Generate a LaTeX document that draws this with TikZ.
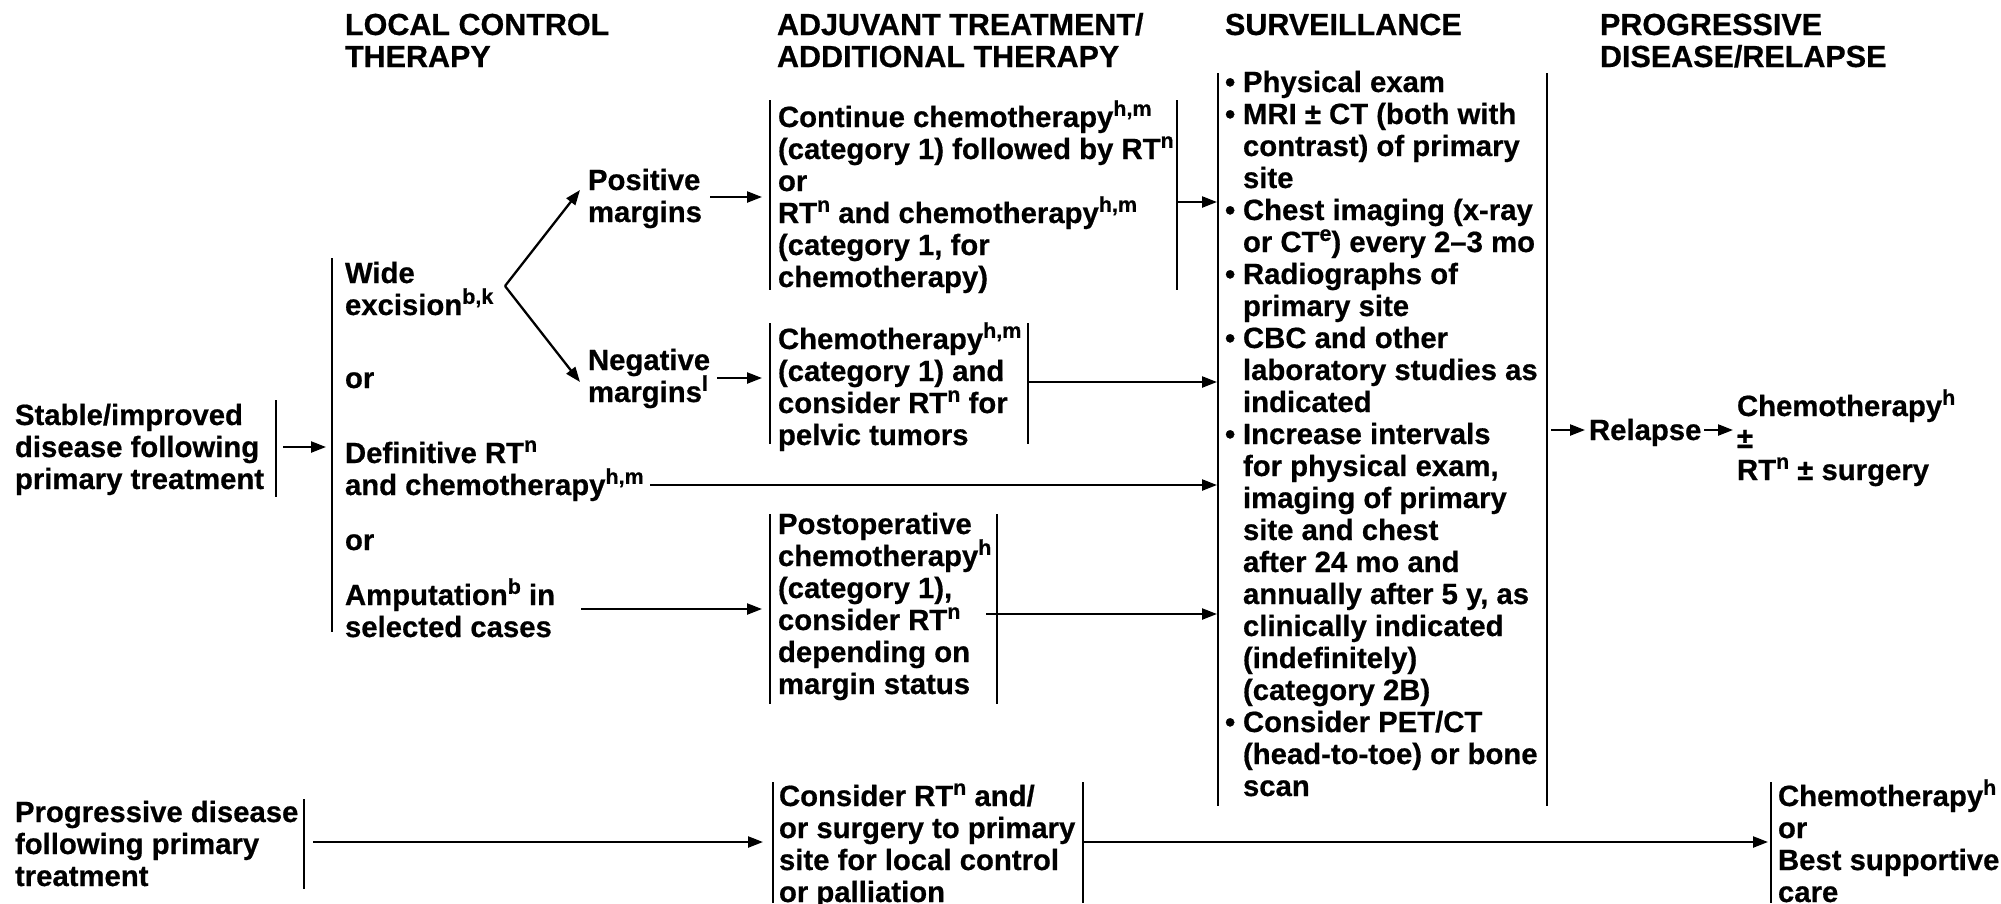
\documentclass[tikz,border=0pt]{standalone}
\usepackage{fontspec}
\setmainfont{Liberation Sans}[BoldFeatures={FakeBold=0.6}]
\usetikzlibrary{arrows.meta}
\newcommand\ml[1]{\vtop{\baselineskip=32pt\lineskiplimit=-100pt\lineskip=0pt\halign{##\hfil\cr#1\crcr}}}
\newcommand\su[1]{\raisebox{0.38em}{\fontsize{21.5}{21.5}\selectfont #1}}
\newcommand\bul{\hbox to 18pt{\textbullet\hss}}
\newcommand\indt{\hbox to 18pt{}}
\begin{document}
\begin{tikzpicture}[x=1pt,y=-1pt,
  T/.style={anchor=base west,inner sep=0pt,outer sep=0pt,font=\fontsize{29.3}{32}\selectfont\bfseries},
  H/.style={T,font=\fontsize{30.5}{32}\selectfont\bfseries},
  bar/.style={line width=2.3pt},
  arr/.style={line width=2.3pt,-{Triangle[length=15pt,width=11pt]}}]
\useasboundingbox (0,0) rectangle (2001,903);

% headers
\node[H] (hLC) at (345,35) {\ml{LOCAL CONTROL\cr THERAPY}};
\node[H] (hAT) at (777,35) {\ml{ADJUVANT TREATMENT/\cr ADDITIONAL THERAPY}};
\node[H] (hSV) at (1225,35) {SURVEILLANCE};
\node[H] (hPD) at (1600,35) {\ml{PROGRESSIVE\cr DISEASE/RELAPSE}};

% stable
\node[T] (stable) at (15,425) {\ml{Stable/improved\cr disease following\cr primary treatment}};
\coordinate (stT) at (276,400); \coordinate (stB) at (276,497);
\draw[bar] (stT) -- (stB);
\coordinate (a1s) at (283,447); \coordinate (a1e) at (326,447);
\draw[arr] (a1s) -- (a1e);

% local control bracket
\coordinate (lcT) at (332,258); \coordinate (lcB) at (332,632);
\draw[bar] (lcT) -- (lcB);
\node[T] (wide) at (345,283) {\ml{Wide\cr excision\su{b,k}}};
\node[T] (or1) at (345,388) {or};
\node[T] (defi) at (345,463) {\ml{Definitive RT\su{n}\cr and chemotherapy\su{h,m}}};
\node[T] (or2) at (345,550) {or};
\node[T] (amp) at (345,605) {\ml{Amputation\su{b} in\cr selected cases}};

% fork
\coordinate (apex) at (505,286);
\coordinate (posTip) at (580,190);
\coordinate (negTip) at (580,382);
\draw[arr] (apex) -- (posTip);
\draw[arr] (apex) -- (negTip);
\node[T] (pos) at (588,190) {\ml{Positive\cr margins}};
\node[T] (neg) at (588,370) {\ml{Negative\cr margins\su{l}}};

% box 1
\draw[bar] (770,100) -- (770,290);
\draw[bar] (1177,100) -- (1177,290);
\node[T] (b1) at (778,127) {\ml{Continue chemotherapy\su{h,m}\cr (category 1) followed by RT\su{n}\cr or\cr RT\su{n} and chemotherapy\su{h,m}\cr (category 1, for\cr chemotherapy)}};
\coordinate (p1s) at (710,197); \coordinate (p1e) at (762,197);
\draw[arr] (p1s) -- (p1e);
\coordinate (b1s) at (1177,202); \coordinate (b1e) at (1217,202);
\draw[arr] (b1s) -- (b1e);

% box 2
\draw[bar] (770,323) -- (770,444);
\draw[bar] (1028,323) -- (1028,444);
\node[T] (b2) at (778,349) {\ml{Chemotherapy\su{h,m}\cr (category 1) and\cr consider RT\su{n} for\cr pelvic tumors}};
\coordinate (n1s) at (717,378); \coordinate (n1e) at (762,378);
\draw[arr] (n1s) -- (n1e);
\coordinate (b2s) at (1028,382); \coordinate (b2e) at (1217,382);
\draw[arr] (b2s) -- (b2e);

% definitive arrow
\coordinate (ds) at (650,485); \coordinate (de) at (1217,485);
\draw[arr] (ds) -- (de);

% box 3
\draw[bar] (770,514) -- (770,704);
\draw[bar] (997,514) -- (997,704);
\node[T] (b3) at (778,534) {\ml{Postoperative\cr chemotherapy\su{h}\cr (category 1),\cr consider RT\su{n}\cr depending on\cr margin status}};
\coordinate (as) at (581,609); \coordinate (ae) at (762,609);
\draw[arr] (as) -- (ae);
\coordinate (b3s) at (986,614); \coordinate (b3e) at (1217,614);
\draw[arr] (b3s) -- (b3e);

% surveillance
\draw[bar] (1218,73) -- (1218,806);
\draw[bar] (1547,73) -- (1547,806);
\node[T] (surv) at (1225,92) {\ml{\bul Physical exam\cr
\bul MRI ± CT (both with\cr
\indt contrast) of primary\cr
\indt site\cr
\bul Chest imaging (x-ray\cr
\indt or CT\su{e}) every 2–3 mo\cr
\bul Radiographs of\cr
\indt primary site\cr
\bul CBC and other\cr
\indt laboratory studies as\cr
\indt indicated\cr
\bul Increase intervals\cr
\indt for physical exam,\cr
\indt imaging of primary\cr
\indt site and chest\cr
\indt after 24 mo and\cr
\indt annually after 5 y, as\cr
\indt clinically indicated\cr
\indt (indefinitely)\cr
\indt (category 2B)\cr
\bul Consider PET/CT\cr
\indt (head-to-toe) or bone\cr
\indt scan}};

% relapse
\coordinate (r1s) at (1551,430); \coordinate (r1e) at (1585,430);
\draw[arr] (r1s) -- (r1e);
\node[T] (rel) at (1589,440) {Relapse};
\coordinate (r2s) at (1704,430); \coordinate (r2e) at (1733,430);
\draw[arr] (r2s) -- (r2e);
\node[T] (relchemo) at (1737,416) {\ml{Chemotherapy\su{h}\cr ±\cr RT\su{n} ± surgery}};

% progressive
\node[T] (prog) at (15,822) {\ml{Progressive disease\cr following primary\cr treatment}};
\draw[bar] (304,799) -- (304,889);
\coordinate (pgs) at (313,842); \coordinate (pge) at (763,842);
\draw[arr] (pgs) -- (pge);
\draw[bar] (773,782) -- (773,903);
\draw[bar] (1083,782) -- (1083,903);
\node[T] (cons) at (779,806) {\ml{Consider RT\su{n} and/\cr or surgery to primary\cr site for local control\cr or palliation}};
\coordinate (cs) at (1083,842); \coordinate (ce) at (1768,842);
\draw[arr] (cs) -- (ce);
\draw[bar] (1771,782) -- (1771,903);
\node[T] (fin) at (1778,806) {\ml{Chemotherapy\su{h}\cr or\cr Best supportive\cr care}};
\end{tikzpicture}
\end{document}
